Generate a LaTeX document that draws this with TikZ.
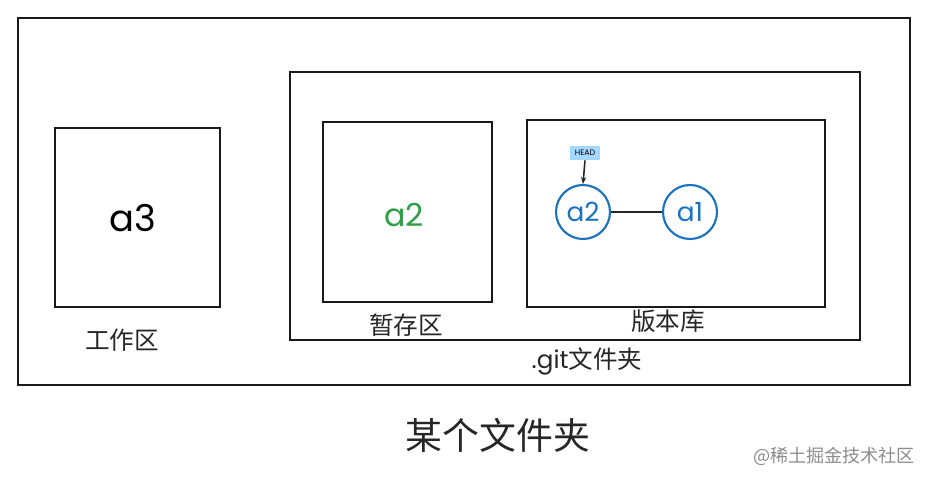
\documentclass[tikz,border=0pt]{standalone}
\usepackage{fontspec}
\setmainfont{Noto Sans CJK SC}
\newfontfamily\handfont{Poppins}
\usetikzlibrary{arrows.meta,positioning}
\definecolor{xblue}{HTML}{1971C2}
\definecolor{xgreen}{HTML}{2F9E44}
\definecolor{xlight}{HTML}{A5D8FF}
\tikzstyle{box}=[draw=black!90, line width=1.5pt, inner sep=0pt]
\tikzstyle{commit}=[circle,
                    line width=1.2pt,
                    minimum size=1.08cm,
                    inner sep=0pt,
                    draw=xblue,
                    text=xblue,
                    font=\handfont\fontsize{15}{15}\selectfont]
\tikzstyle{label}=[font=\fontsize{14}{14}\selectfont, text=black!85]

\begin{document}
\begin{tikzpicture}[x=0.02cm,y=-0.02cm]
    \useasboundingbox (0,0) rectangle (929,482);
    % folders
    \node[box, minimum width=17.84cm, minimum height=7.34cm] (folder) at (464,201.5) {};
    \node[box, minimum width=11.4cm, minimum height=5.36cm] (git) at (575,206) {};
    \node[box, minimum width=3.3cm, minimum height=3.58cm] (work) at (137.5,217.5) {};
    \node[box, minimum width=3.38cm, minimum height=3.6cm] (stage) at (407.5,212) {};
    \node[box, minimum width=5.96cm, minimum height=3.74cm] (repo) at (676,213.5) {};
    % contents
    \node[font=\handfont\fontsize{21}{21}\selectfont] (a3) at (133,218) {a3};
    \node[font=\handfont\fontsize{18}{18}\selectfont, text=xgreen] (staged) at (404,215) {a2};
    \node[commit] (c2) at (583,212) {a2};
    \node[commit] (c1) at (690,212) {a1};
    \node[fill=xlight, minimum width=0.6cm, minimum height=0.28cm, inner sep=0pt,
          font=\handfont\fontsize{4.5}{4.5}\selectfont] (head) at (585,153) {HEAD};
    \draw[line width=1pt, black!85] (c2) -- (c1);
    \draw[-{Stealth[length=4pt]}, line width=0.9pt, black!85] (head.south) -- (c2.north);
    % labels
    \node[label] (worklabel) at (122,340) {工作区};
    \node[label] (stagelabel) at (406,325) {暂存区};
    \node[label] (repolabel) at (668,321) {版本库};
    \node[label] (gitlabel) at (587,361) {{\handfont .git}文件夹};
    \node[font=\fontsize{21}{21}\selectfont, text=black!85] (title) at (498,435) {某个文件夹};
    \node[font=\fontsize{10.3}{10.3}\selectfont, text=black!45] (mark) at (834,456) {@稀土掘金技术社区};
\end{tikzpicture}
\end{document}
